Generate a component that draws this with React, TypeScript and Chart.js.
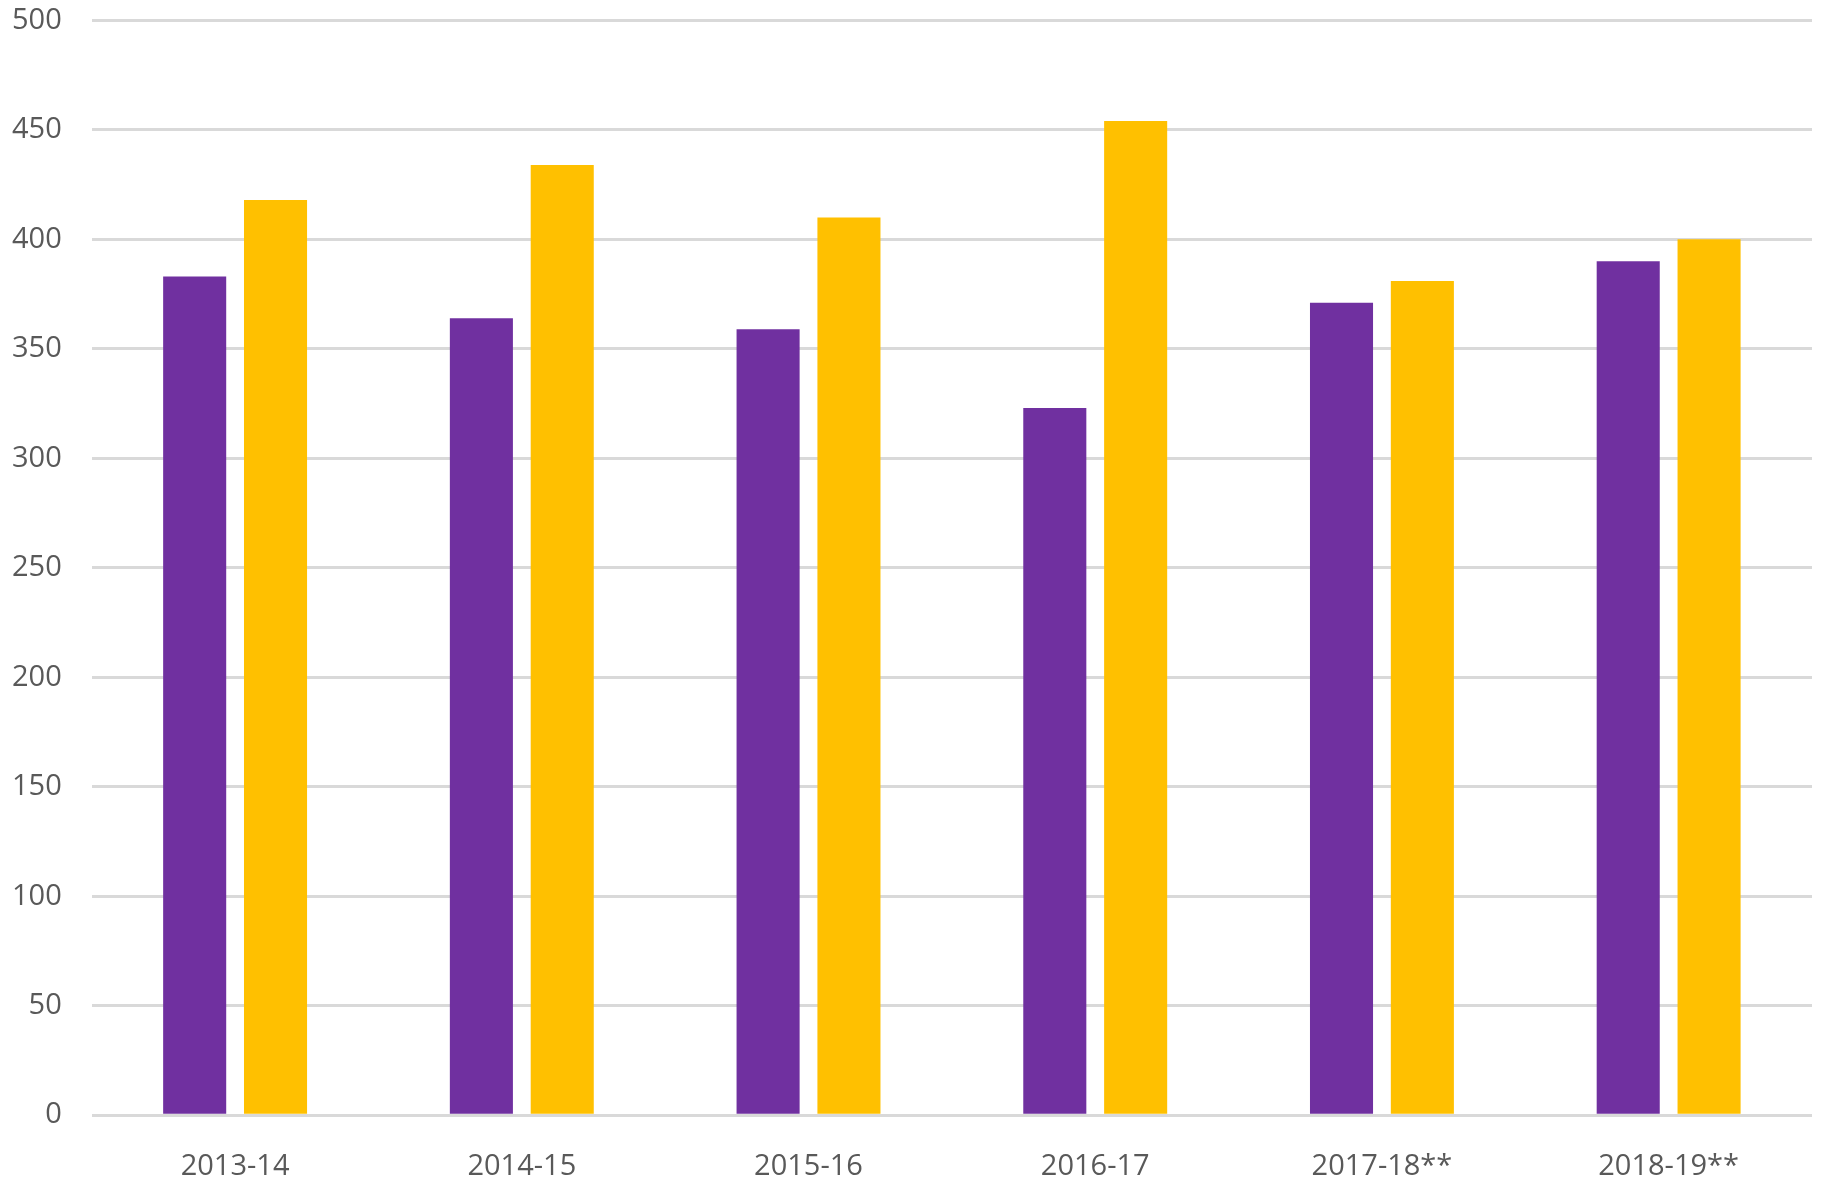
import { useEffect, useRef } from 'react'
import Chart from 'chart.js/auto'

const years = ['2013-14', '2014-15', '2015-16', '2016-17', '2017-18**', '2018-19**']
const purpleSeries = [383, 364, 359, 323, 371, 390]
const yellowSeries = [418, 434, 410, 454, 381, 400]

export default function App() {
  const canvasRef = useRef<HTMLCanvasElement>(null)
  const chartRef = useRef<Chart | null>(null)

  useEffect(() => {
    document.body.style.margin = '0'
    if (!canvasRef.current) return
    if (chartRef.current) chartRef.current.destroy()

    const ctx = canvasRef.current.getContext('2d')
    if (!ctx) return

    const font = { family: '"Open Sans", "Noto Sans", sans-serif', size: 29 }

    chartRef.current = new Chart(ctx, {
      type: 'bar',
      data: {
        labels: years,
        datasets: [
          {
            label: 'Series 1',
            data: purpleSeries,
            backgroundColor: '#7030A0',
            categoryPercentage: 0.564,
            barPercentage: 0.78,
          },
          {
            label: 'Series 2',
            data: yellowSeries,
            backgroundColor: '#FFC000',
            categoryPercentage: 0.564,
            barPercentage: 0.78,
          },
        ],
      },
      options: {
        responsive: true,
        maintainAspectRatio: false,
        animation: false,
        layout: { padding: { top: 2, right: 11, left: 0, bottom: 0 } },
        plugins: { legend: { display: false }, tooltip: { enabled: false } },
        scales: {
          x: {
            grid: { display: false },
            border: { display: false },
            ticks: { color: '#595959', font, padding: 26, maxRotation: 0 },
          },
          y: {
            min: 0,
            max: 500,
            ticks: { stepSize: 50, color: '#595959', font, padding: 30 },
            grid: { color: '#d9d9d9', lineWidth: 3, drawTicks: false },
            border: { display: false },
          },
        },
      },
    })

    return () => {
      if (chartRef.current) chartRef.current.destroy()
    }
  }, [])

  return (
    <div style={{ position: 'relative', width: 1823, height: 1180, overflow: 'hidden' }}>
      <div style={{ position: 'absolute', left: -18, top: -27, width: 1841, height: 1237 }}>
        <canvas ref={canvasRef} />
      </div>
    </div>
  )
}
